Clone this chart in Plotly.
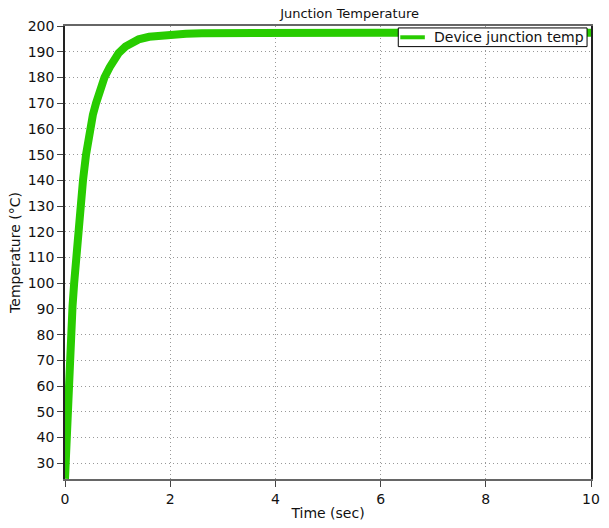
import plotly.graph_objects as go

# Junction temperature response (time in s, temperature in °C)
time_s = [0.0, 0.02, 0.04, 0.06, 0.08, 0.10, 0.12, 0.143, 0.174, 0.206,
          0.249, 0.293, 0.342, 0.40, 0.47, 0.53, 0.59, 0.67, 0.75, 0.85,
          0.93, 1.02, 1.15, 1.28, 1.40, 1.60, 1.80, 2.0, 2.3, 2.6,
          3.0, 4.0, 5.0, 6.0, 7.0, 8.0, 9.0, 10.0]
temp_c = [24.0, 36.0, 47.5, 58.5, 68.5, 77.0, 84.5, 91.0, 100.0, 109.5,
          120.0, 130.0, 140.0, 150.0, 160.0, 165.5, 170.0, 175.5, 180.0, 184.0,
          187.0, 189.5, 192.0, 193.7, 194.8, 195.8, 196.3, 196.7, 197.0, 197.2,
          197.3, 197.4, 197.4, 197.4, 197.4, 197.4, 197.4, 197.4]

x_ticks = [0, 2, 4, 6, 8, 10]
y_ticks = list(range(30, 201, 10))

series_name = "Device junction temp"
line_color = "rgb(40,204,0)"
font_family = "DejaVu Sans, Verdana, sans-serif"

fig = go.Figure()
fig.add_trace(go.Scatter(
    x=time_s, y=temp_c, mode="lines", name=series_name,
    line=dict(color=line_color, width=8), showlegend=False,
))

# Legend box drawn over the plot area, top right
fig.add_shape(type="rect", xref="paper", yref="paper",
              x0=0.6336, x1=0.9925, y0=0.9545, y1=0.9957,
              fillcolor="white", line=dict(color="black", width=1), layer="above")
fig.add_shape(type="line", xref="paper", yref="paper",
              x0=0.6374, x1=0.6841, y0=0.9751, y1=0.9751,
              line=dict(color=line_color, width=4), layer="above")
fig.add_annotation(text=series_name, xref="paper", yref="paper",
                   x=0.6972, y=0.9751, xanchor="left", yanchor="middle",
                   showarrow=False, font=dict(size=14, color="#111"))

fig.update_layout(
    width=609, height=528,
    margin=dict(l=65, r=9, t=26, b=40),
    paper_bgcolor="white", plot_bgcolor="white",
    font=dict(family=font_family, size=14, color="#111"),
    title=dict(text="Junction Temperature", x=0.574, xanchor="center",
               y=0.983, yanchor="top", font=dict(size=13, color="#111")),
    showlegend=False,
)

fig.update_xaxes(
    range=[0, 10], tickvals=x_ticks, ticktext=[str(v) for v in x_ticks],
    title=dict(text="Time (sec)", standoff=2, font=dict(size=14)),
    showline=True, linecolor="#666", linewidth=2, mirror=True,
    ticks="outside", ticklen=6, tickcolor="#444", tickwidth=1,
    showgrid=True, gridcolor="#999", griddash="1px,3px", gridwidth=1,
    zeroline=False, tickfont=dict(size=14),
)
fig.update_yaxes(
    range=[23.9, 200], tickvals=y_ticks, ticktext=[str(v) for v in y_ticks],
    title=dict(text="Temperature (°C)", standoff=4, font=dict(size=14)),
    showline=True, linecolor="#222", linewidth=1.5, mirror=True,
    ticks="outside", ticklen=6, tickcolor="#444", tickwidth=1,
    showgrid=True, gridcolor="#999", griddash="1px,3px", gridwidth=1,
    zeroline=False, tickfont=dict(size=14),
)

fig.write_html("out.html")
